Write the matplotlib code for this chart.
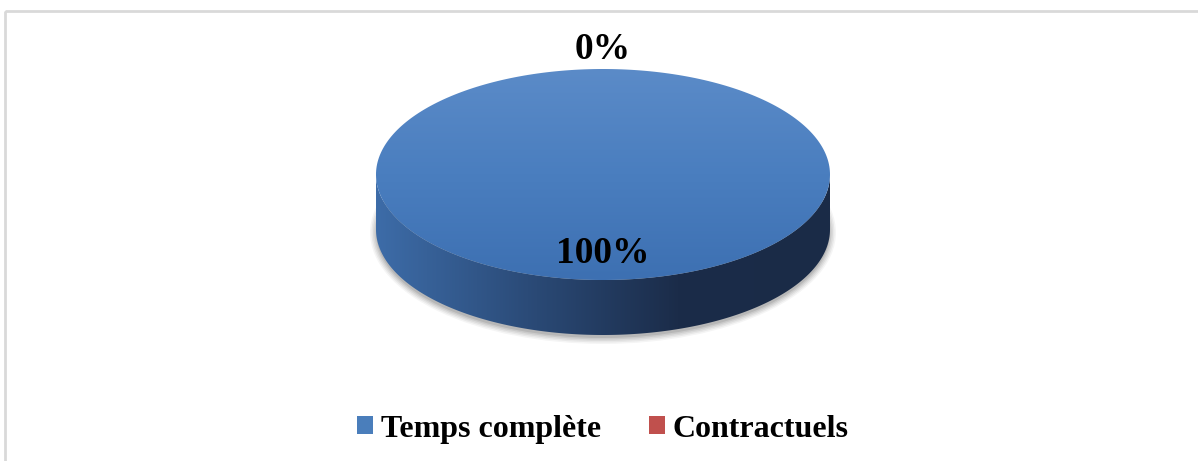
import numpy as np
import matplotlib
matplotlib.use("Agg")
import matplotlib.pyplot as plt
from matplotlib.patches import Polygon, Ellipse, Rectangle, Patch
from matplotlib.colors import LinearSegmentedColormap

# --- données ---
categories = ["Temps complète", "Contractuels"]
values = [100, 0]
labels = ["100%", "0%"]
colors = ["#4a7ebb", "#c0504d"]

plt.rcParams['font.family'] = ['Liberation Serif', 'DejaVu Serif']

W, H = 1198, 461
fig = plt.figure(figsize=(W / 100, H / 100), dpi=100)
ax = fig.add_axes([0, 0, 1, 1])
ax.set_axis_off()

# géométrie du camembert 3D (en pixels)
cx, cy = 603, 174.5
a, b = 227, 105.5
depth = 55

# cadre du graphique
ax.add_patch(Rectangle((5, 11), W + 20, H + 20, fill=False, edgecolor="#d9d9d9", linewidth=2))

# ombre sous le camembert
for i, al in enumerate([0.04, 0.05, 0.06, 0.07, 0.09]):
    ax.add_patch(Ellipse((cx, cy + depth + 3), 2 * a + 12 - 3 * i, 2 * b + 12 - 3 * i,
                         facecolor="#000000", edgecolor="none", alpha=al, zorder=1))

t = np.linspace(0, np.pi, 200)
top_edge = np.column_stack([cx + a * np.cos(t), cy + b * np.sin(t)])
bot_edge = np.column_stack([cx + a * np.cos(t[::-1]), cy + depth + b * np.sin(t[::-1])])
side = Polygon(np.vstack([top_edge, bot_edge]), closed=True, facecolor="none", edgecolor="none", zorder=2)
ax.add_patch(side)
side_cmap = LinearSegmentedColormap.from_list("side", ["#3d6ca8", "#2b4b78", "#1b2c49", "#1a2b47"])
im = ax.imshow(np.linspace(0, 1, 256).reshape(1, -1), cmap=side_cmap, aspect="auto",
               extent=[cx - a, cx + a, cy + b + depth, cy], zorder=2, interpolation="bilinear")
im.set_clip_path(side)

# faces supérieures (parts) calculées depuis les valeurs
total = sum(values)
start = -np.pi / 2  # midi, sens horaire (y vers le bas)
top_cmap = LinearSegmentedColormap.from_list("top", ["#5b8bc8", "#4a7ebf", "#3d70b2"])
for val, col, lab in zip(values, colors, labels):
    span = 2 * np.pi * val / total
    mid = start + span / 2
    if val > 0:
        tt = np.linspace(start, start + span, 300)
        pts = np.column_stack([cx + a * np.cos(tt), cy + b * np.sin(tt)])
        if val < total:
            pts = np.vstack([[cx, cy], pts])
        face = Polygon(pts, closed=True, facecolor="none", edgecolor="none", zorder=3)
        ax.add_patch(face)
        im2 = ax.imshow(np.linspace(0, 1, 256).reshape(-1, 1), cmap=top_cmap, aspect="auto",
                        extent=[cx - a, cx + a, cy + b, cy - b], zorder=3, interpolation="bilinear")
        im2.set_clip_path(face)
        r = 0.72
    else:
        r = 1.21
    ax.text(cx + a * r * np.cos(mid), cy + b * r * np.sin(mid) + 3, lab, ha="center", va="center",
            fontsize=27, fontweight="bold", color="black", zorder=5)
    start += span

ax.set_xlim(0, W)
ax.set_ylim(H, 0)

handles = [Patch(facecolor=c, edgecolor="none") for c in colors]
fig.legend(handles, categories, loc="center", bbox_to_anchor=(603 / W, 1 - 429 / H), ncol=2,
           frameon=False, prop={"family": "Liberation Serif", "weight": "bold", "size": 23},
           handlelength=0.5, handleheight=0.5, handletextpad=0.25, columnspacing=1.5)

fig.savefig("out.png", dpi=100)
